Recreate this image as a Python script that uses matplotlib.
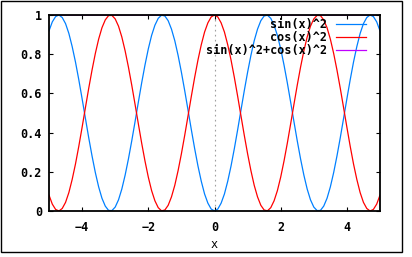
import numpy as np
import matplotlib
matplotlib.use("Agg")
import matplotlib.pyplot as plt
from matplotlib.patches import Rectangle

# values, x = 0.0 .. 5.0 step 0.1 (both curves are even)
x_half = [0.0, 0.1, 0.2, 0.3, 0.4, 0.5, 0.6, 0.7, 0.8, 0.9, 1.0, 1.1, 1.2, 1.3, 1.4,
          1.5, 1.6, 1.7, 1.8, 1.9, 2.0, 2.1, 2.2, 2.3, 2.4, 2.5, 2.6, 2.7, 2.8, 2.9,
          3.0, 3.1, 3.2, 3.3, 3.4, 3.5, 3.6, 3.7, 3.8, 3.9, 4.0, 4.1, 4.2, 4.3, 4.4,
          4.5, 4.6, 4.7, 4.8, 4.9, 5.0]
sin2_half = [0.0, 0.010, 0.040, 0.087, 0.152, 0.230, 0.319, 0.415, 0.515, 0.614, 0.708,
             0.794, 0.869, 0.928, 0.971, 0.995, 0.999, 0.983, 0.948, 0.896, 0.827,
             0.745, 0.654, 0.556, 0.456, 0.358, 0.266, 0.183, 0.112, 0.057, 0.020,
             0.002, 0.003, 0.025, 0.065, 0.123, 0.196, 0.281, 0.374, 0.473, 0.573,
             0.670, 0.760, 0.839, 0.906, 0.956, 0.987, 1.000, 0.992, 0.965, 0.919]
cos2_half = [1.0, 0.990, 0.960, 0.913, 0.848, 0.770, 0.681, 0.585, 0.485, 0.386, 0.292,
             0.206, 0.131, 0.072, 0.029, 0.005, 0.001, 0.017, 0.052, 0.104, 0.173,
             0.255, 0.346, 0.444, 0.544, 0.642, 0.734, 0.817, 0.888, 0.943, 0.980,
             0.998, 0.997, 0.975, 0.935, 0.877, 0.804, 0.719, 0.626, 0.527, 0.427,
             0.330, 0.240, 0.161, 0.094, 0.044, 0.013, 0.000, 0.008, 0.035, 0.081]
sum_val = 1.0

x = np.concatenate([-np.array(x_half[:0:-1]), x_half])
sin2 = np.concatenate([sin2_half[:0:-1], sin2_half])
cos2 = np.concatenate([cos2_half[:0:-1], cos2_half])

plt.rcParams["font.family"] = "DejaVu Sans Mono"
plt.rcParams["font.weight"] = "bold"
plt.rcParams["font.size"] = 8.5

fig = plt.figure(figsize=(4.12, 2.57), dpi=100)
fig.patches.append(Rectangle((0.5 / 412, 1 - 251.5 / 257), 401 / 412, 251 / 257,
                             transform=fig.transFigure, fill=False, ec="black", lw=1.0))
ax = fig.add_axes([49 / 412, 1 - 211 / 257, 331 / 412, 196 / 257])

ax.axvline(0, color="#a0a0a0", lw=0.8, ls=(0, (1.5, 3)), zorder=1)
ax.plot(x, sin2, color="#0080ff", lw=0.9, label="sin(x)^2", zorder=3)
ax.plot(x, cos2, color="#ff0000", lw=0.9, label="cos(x)^2", zorder=3)
# sits under the top border, like in gnuplot
ax.plot(x, np.full(len(x), sum_val), color="#c000ff", lw=0.5,
        label="sin(x)^2+cos(x)^2", zorder=1)

ax.set_xlim(-5, 5)
ax.set_ylim(0, 1)
ax.set_xticks([-4, -2, 0, 2, 4])
ax.set_yticks([0, 0.2, 0.4, 0.6, 0.8, 1])
ax.set_yticklabels(["0", "0.2", "0.4", "0.6", "0.8", "1"])
ax.tick_params(direction="in", length=3, width=0.8, top=True, right=True, pad=5)
ax.tick_params(axis="x", pad=7)
for s in ax.spines.values():
    s.set_linewidth(1.3)
    s.set_zorder(5)
ax.set_xlabel("x", labelpad=3)

leg = ax.legend(loc="upper right", frameon=False, markerfirst=False, handlelength=2.6,
                handletextpad=0.75, labelspacing=0.0, borderaxespad=0.0, fontsize=8.5,
                bbox_to_anchor=(1 - 9 / 331, 1 + 2 / 196))
for h in leg.get_lines():
    h.set_linewidth(0.9)

fig.savefig("out.png", dpi=100)
